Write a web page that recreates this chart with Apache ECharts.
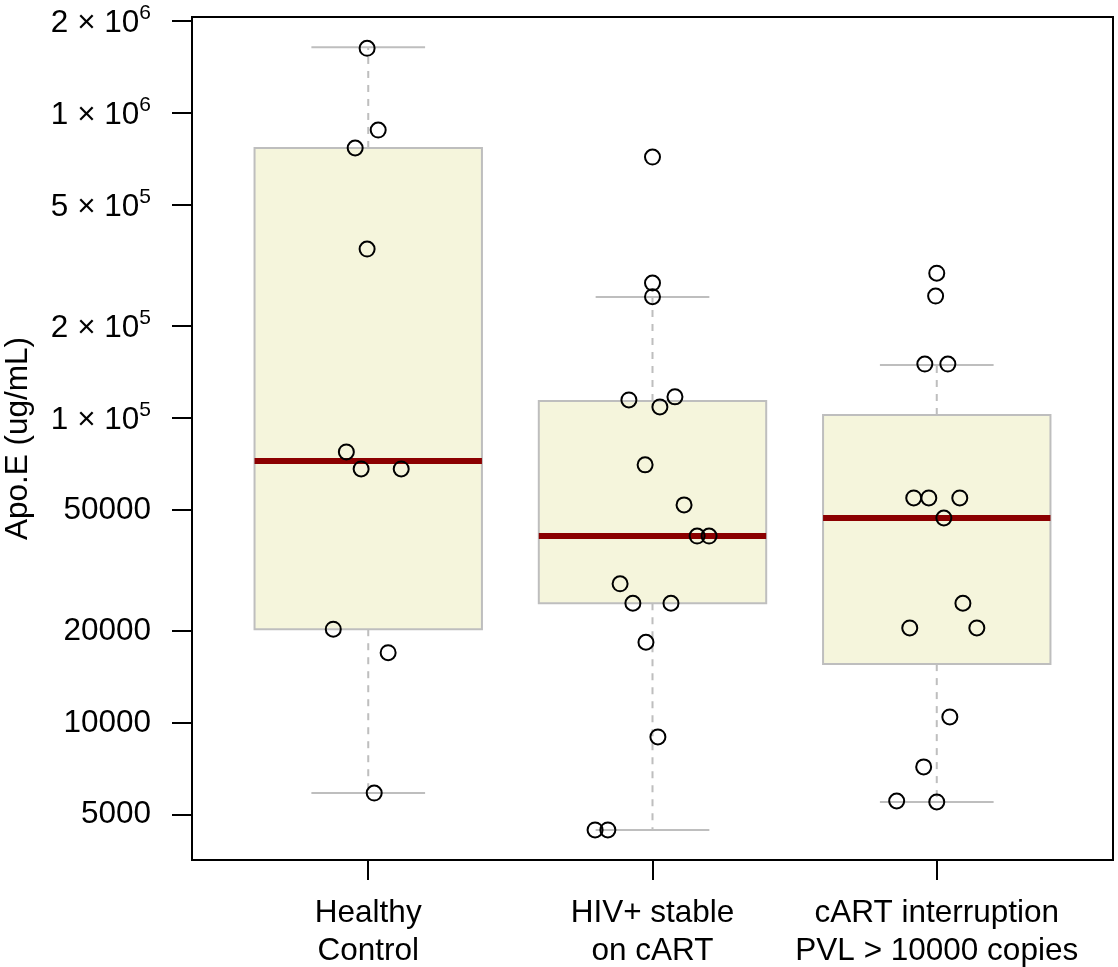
<!DOCTYPE html>
<html><head><meta charset="utf-8">
<script src="https://cdn.jsdelivr.net/npm/echarts@6/dist/echarts.min.js"></script>
<style>html,body{margin:0;padding:0;background:#fff}#c{width:1118px;height:967px}</style>
</head><body><div id="c"></div>
<script>
const categories = ['Healthy\nControl', 'HIV+ stable\non cART', 'cART interruption\nPVL > 10000 copies'];
const yTickValues = [5000, 10000, 20000, 50000, 100000, 200000, 500000, 1000000, 2000000];
const yTickLabels = ['5000', '10000', '20000', '50000', '1 × 10^5', '2 × 10^5', '5 × 10^5', '1 × 10^6', '2 × 10^6'];
const yTitle = 'Apo.E (ug/mL)';

// five-number summaries: [lower whisker, Q1, median, Q3, upper whisker]
const boxHealthy = [5890, 20300, 72300, 768000, 1644000];
const boxStable = [4460, 24700, 41000, 113700, 249500];
const boxInterrupt = [5510, 15600, 47000, 102300, 149300];

// individual observations and their horizontal jitter (category units)
const ptsHealthy = [1630000, 879000, 768000, 358000, 77400, 68100, 68100, 20300, 17000, 5890];
const jitHealthy = [-0.004, 0.035, -0.046, -0.004, -0.077, -0.025, 0.116, -0.123, 0.070, 0.021];
const ptsStable = [717000, 277000, 250000, 114600, 108700, 117300, 70200, 51900, 41000, 41000, 28600, 24700, 24700, 18400, 9000, 4460, 4460];
const jitStable = [0, 0, 0, -0.083, 0.026, 0.079, -0.026, 0.111, 0.157, 0.199, -0.114, -0.069, 0.065, -0.023, 0.019, -0.202, -0.157];
const ptsInterrupt = [298500, 251000, 150300, 150300, 54700, 54700, 54700, 47000, 24700, 20500, 20500, 10470, 7180, 5550, 5510];
const jitInterrupt = [0, -0.004, -0.042, 0.039, -0.081, -0.028, 0.081, 0.025, 0.092, -0.095, 0.141, 0.046, -0.046, -0.141, 0];

const FONT = '"Liberation Sans", Arial, Helvetica, sans-serif';
const FS = 31.5;
const L = Math.log10;
const boxes = [boxHealthy, boxStable, boxInterrupt];
const pts = [ptsHealthy, ptsStable, ptsInterrupt];
const jits = [jitHealthy, jitStable, jitInterrupt];

const boxData = boxes.map((b, i) => [i + 1].concat(b.map(L)));
const ptData = [];
pts.forEach((arr, i) => arr.forEach((v, j) => ptData.push([i + 1 + jits[i][j], L(v)])));
const yTickLog = yTickValues.map(L);

function yFmt(val) {
  let idx = 0, best = 1e9;
  yTickLog.forEach((t, i) => { const d = Math.abs(t - val); if (d < best) { best = d; idx = i; } });
  const lab = yTickLabels[idx];
  if (lab.indexOf('^') >= 0) {
    const p = lab.split('^');
    return '{b|' + p[0] + '}{s|' + p[1] + '}';
  }
  return '{n|' + lab + '}';
}

const chart = echarts.init(document.getElementById('c'));
chart.setOption({
  animation: false,
  backgroundColor: '#fff',
  grid: { left: 192, top: 17, width: 921, height: 843, show: true, borderColor: '#000', borderWidth: 2, backgroundColor: 'transparent', containLabel: false, outerBoundsMode: 'none' },
  xAxis: {
    type: 'value', min: 0.38, max: 3.62,
    axisLine: { show: false },
    splitLine: { show: false },
    axisTick: { show: true, length: 20, lineStyle: { color: '#000', width: 2 }, customValues: [1, 2, 3] },
    axisLabel: {
      customValues: [1, 2, 3], margin: 34,
      formatter: v => categories[Math.round(v) - 1],
      color: '#000', fontFamily: FONT, fontSize: FS, lineHeight: 38, align: 'center'
    }
  },
  yAxis: {
    type: 'value', min: 3.5508, max: 6.3148,
    name: yTitle, nameLocation: 'middle', nameRotate: 90, nameGap: 158,
    nameTextStyle: { color: '#000', fontFamily: FONT, fontSize: FS },
    axisLine: { show: false },
    splitLine: { show: false },
    axisTick: { show: true, length: 20, lineStyle: { color: '#000', width: 2 }, customValues: yTickLog },
    axisLabel: {
      customValues: yTickLog, margin: 41, formatter: yFmt, color: '#000',
      rich: {
        n: { fontFamily: FONT, fontSize: FS, color: '#000' },
        b: { fontFamily: FONT, fontSize: FS, color: '#000', verticalAlign: 'bottom', padding: [5, 0, 0, 0] },
        s: { fontFamily: FONT, fontSize: 21, color: '#000', verticalAlign: 'top' }
      }
    }
  },
  series: [
    {
      type: 'custom', z: 2, data: boxData, encode: { x: 0, y: [1, 2, 3, 4, 5] },
      renderItem: function (params, api) {
        const x = api.value(0);
        const c = y => api.coord([x, y]);
        const pLo = c(api.value(1)), pQ1 = c(api.value(2)), pMd = c(api.value(3)), pQ3 = c(api.value(4)), pHi = c(api.value(5));
        const half = api.size([0.4, 0])[0];
        const st = api.size([0.2, 0])[0];
        const cx = pMd[0];
        const gray = '#BEBEBE';
        return {
          type: 'group', children: [
            { type: 'line', shape: { x1: cx, y1: pQ3[1], x2: cx, y2: pHi[1] }, style: { stroke: gray, lineWidth: 2, lineDash: [7, 7] } },
            { type: 'line', shape: { x1: cx, y1: pQ1[1], x2: cx, y2: pLo[1] }, style: { stroke: gray, lineWidth: 2, lineDash: [7, 7] } },
            { type: 'line', shape: { x1: cx - st, y1: pHi[1], x2: cx + st, y2: pHi[1] }, style: { stroke: gray, lineWidth: 2 } },
            { type: 'line', shape: { x1: cx - st, y1: pLo[1], x2: cx + st, y2: pLo[1] }, style: { stroke: gray, lineWidth: 2 } },
            { type: 'rect', shape: { x: cx - half, y: pQ3[1], width: 2 * half, height: pQ1[1] - pQ3[1] }, style: { fill: '#F5F5DC', stroke: gray, lineWidth: 2 } },
            { type: 'line', shape: { x1: cx - half, y1: pMd[1], x2: cx + half, y2: pMd[1] }, style: { stroke: '#8B0000', lineWidth: 6 } }
          ]
        };
      }
    },
    {
      type: 'scatter', z: 3, data: ptData, symbol: 'circle', symbolSize: 15,
      itemStyle: { color: 'rgba(0,0,0,0)', borderColor: '#000', borderWidth: 2, opacity: 1 },
      emphasis: { disabled: true }
    }
  ]
});
</script></body></html>
